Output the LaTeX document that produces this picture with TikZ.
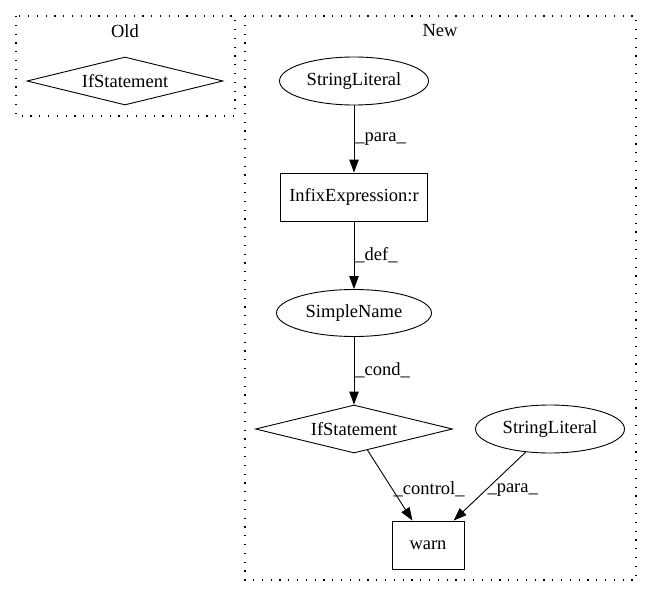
\documentclass[tikz,border=0pt]{standalone}
\usepackage{fontspec}
\setmainfont{Liberation Serif}
\usetikzlibrary{shapes.geometric,arrows.meta}

\tikzset{
  ell/.style={draw, ellipse, minimum width=149pt, minimum height=48pt, inner sep=0pt},
  boxnode/.style={draw, rectangle, minimum height=48pt, inner sep=0pt},
  ifnode/.style={draw, diamond, aspect=4.1, minimum width=196pt, minimum height=48pt, inner sep=0pt},
  cluster/.style={draw, line width=1.1pt, dash pattern=on 1.2pt off 7.6pt},
  edge/.style={-{Triangle[length=13pt,width=9.5pt]}},
  elabel/.style={inner sep=1pt}
}

\begin{document}
\begin{tikzpicture}[x=1pt, y=-1pt, font=\fontsize{18.5}{21}\selectfont, line width=0.9pt]
\useasboundingbox (0,0) rectangle (652,596);
\draw[cluster] (16,16) rectangle (235,116);
\draw[cluster] (245,16) rectangle (636,580);
\node (old) at (125,31) {Old};
\node (new) at (440,31) {New};
\node[ifnode] (ifold) at (125,81) {IfStatement};
\node[ell] (str1) at (354,81) {StringLiteral};
\node[boxnode, minimum width=147pt] (infix) at (354,197) {InfixExpression:r};
\node[ell, minimum width=155pt, minimum height=47pt] (simple) at (354,313) {SimpleName};
\node[ifnode, minimum width=197pt] (ifnew) at (354,429) {IfStatement};
\node[ell] (str2) at (550,429) {StringLiteral};
\node[boxnode, minimum width=72pt] (warn) at (428,545) {warn};
\draw[edge] (str1) -- node[elabel, right] {\_para\_} (infix);
\draw[edge] (infix) -- node[elabel, right] {\_def\_} (simple);
\draw[edge] (simple) -- node[elabel, right] {\_cond\_} (ifnew);
\draw[edge] (ifnew) -- node[elabel, right, pos=0.55] {\_control\_} (warn);
\draw[edge] (str2) -- node[elabel, right, pos=0.55] {\_para\_} (warn);
\end{tikzpicture}
\end{document}
